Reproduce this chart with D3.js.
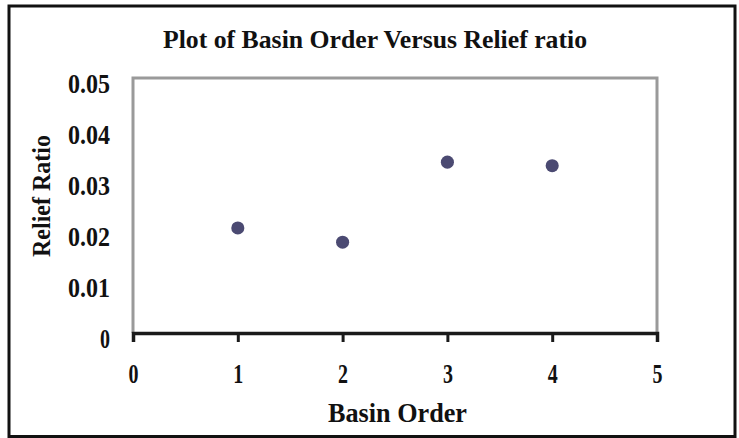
<!DOCTYPE html>
<html>
<head>
<meta charset="utf-8">
<script src="https://cdn.jsdelivr.net/npm/d3@7"></script>
<style>
  html, body { margin: 0; padding: 0; background: #fff; }
  svg { display: block; }
  text { font-family: "Liberation Serif", "Times New Roman", serif; fill: #111; }
</style>
</head>
<body>
<svg id="chart" width="739" height="438"></svg>
<script>
const basinOrder = [1, 2, 3, 4];
const reliefRatio = [0.0206, 0.0178, 0.0335, 0.0328];
const xTicks = [0, 1, 2, 3, 4, 5];
const yTicks = [0, 0.01, 0.02, 0.03, 0.04, 0.05];
const yTickLabels = ["0", "0.01", "0.02", "0.03", "0.04", "0.05"];
const chartTitle = "Plot of Basin Order Versus Relief ratio";
const xTitle = "Basin Order";
const yTitle = "Relief Ratio";

const svg = d3.select("#chart");
const plot = { left: 133, top: 78, right: 657, bottom: 333 };

const x = d3.scaleLinear().domain([0, 5]).range([plot.left, plot.right]);
const y = d3.scaleLinear().domain([0, 0.05]).range([plot.bottom, plot.top]);

// outer border
svg.append("rect")
  .attr("x", 9).attr("y", 6)
  .attr("width", 726).attr("height", 430.5)
  .attr("fill", "#fff").attr("stroke", "#111").attr("stroke-width", 3);

// plot frame (gray)
svg.append("path")
  .attr("d", `M${plot.left},${plot.bottom} V${plot.top} H${plot.right} V${plot.bottom}`)
  .attr("fill", "none").attr("stroke", "#9a9a9a").attr("stroke-width", 3);

// x axis
const xAxis = d3.axisBottom(x).tickValues(xTicks).tickSize(9).tickPadding(21)
  .tickFormat(d3.format("d"));
const gx = svg.append("g").attr("transform", `translate(0,${plot.bottom})`).call(xAxis);
gx.select(".domain").attr("stroke", "#1a1a1a").attr("stroke-width", 3.5);
gx.selectAll(".tick line").attr("stroke", "#1a1a1a").attr("stroke-width", 3);
gx.selectAll(".tick text")
  .attr("font-size", 28).attr("font-weight", "bold")
  .attr("font-family", "Liberation Serif, serif").attr("fill", "#111")
  .attr("textLength", 10).attr("lengthAdjust", "spacingAndGlyphs");

// y axis labels only
const yAxis = d3.axisLeft(y).tickValues(yTicks).tickSize(0).tickPadding(23)
  .tickFormat((d, i) => yTickLabels[i]);
const gy = svg.append("g").attr("transform", `translate(${plot.left},0)`).call(yAxis);
gy.select(".domain").remove();
gy.selectAll(".tick text")
  .attr("font-size", 28).attr("font-weight", "bold")
  .attr("font-family", "Liberation Serif, serif").attr("fill", "#111")
  .attr("dy", "0.5em")
  .attr("textLength", (d, i) => yTickLabels[i].length === 1 ? 10 : 42)
  .attr("lengthAdjust", "spacingAndGlyphs");

// points
svg.append("g").selectAll("path")
  .data(basinOrder.map((b, i) => ({ b, r: reliefRatio[i] })))
  .join("path")
  .attr("d", d3.symbol(d3.symbolCircle, 135))
  .attr("transform", d => `translate(${x(d.b)},${y(d.r)})`)
  .attr("fill", "#4b4a72");

// titles
svg.append("text")
  .attr("x", 375).attr("y", 48)
  .attr("text-anchor", "middle")
  .attr("font-size", 26).attr("font-weight", "bold")
  .attr("textLength", 424).attr("lengthAdjust", "spacingAndGlyphs")
  .text(chartTitle);

svg.append("text")
  .attr("x", 397.5).attr("y", 422)
  .attr("text-anchor", "middle")
  .attr("font-size", 28).attr("font-weight", "bold")
  .attr("textLength", 139).attr("lengthAdjust", "spacingAndGlyphs")
  .text(xTitle);

svg.append("text")
  .attr("transform", `translate(50,196) rotate(-90)`)
  .attr("text-anchor", "middle")
  .attr("font-size", 26).attr("font-weight", "bold")
  .attr("textLength", 122).attr("lengthAdjust", "spacingAndGlyphs")
  .text(yTitle);
</script>
</body>
</html>
